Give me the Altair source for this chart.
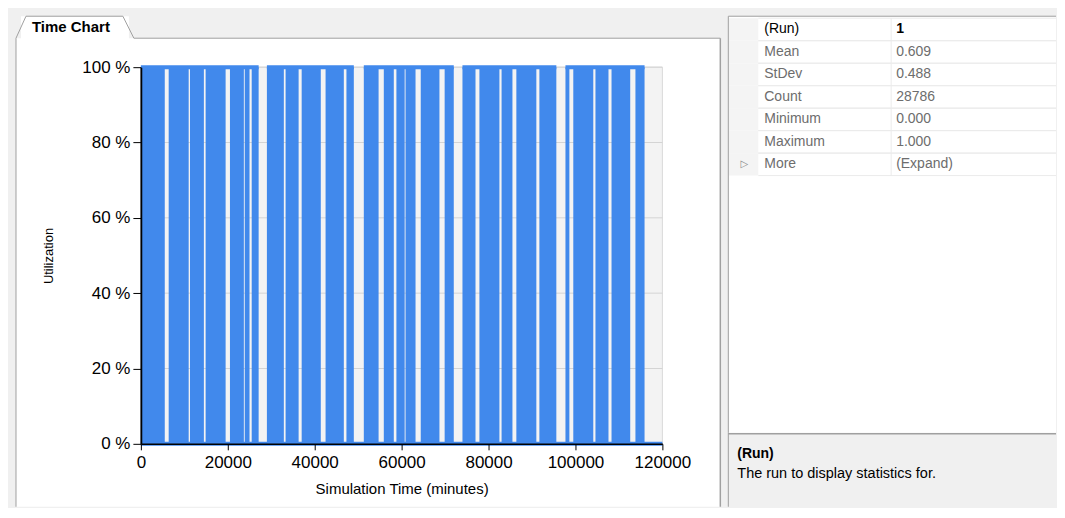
import altair as alt
import pandas as pd

# ---------------- data ----------------
x_ticks = [0, 20000, 40000, 60000, 80000, 100000, 120000]
y_ticks = [0.0, 0.2, 0.4, 0.6, 0.8, 1.0]

# spans where the utilization toggles so fast that the thick step line looks solid
busy_start = [0, 6400, 11300, 14900, 20500, 23900, 25500,
              29000, 33300, 37000, 42500, 47300,
              51300, 55900, 58800, 60900, 64400, 69900,
              74000, 77900, 83000, 86400, 91700,
              97700, 99500, 104600, 108300, 113800]
busy_end = [5500, 11000, 14500, 19500, 23700, 25000, 27100,
            32900, 36300, 41400, 46700, 49000,
            54700, 58200, 60700, 63200, 68700, 72000,
            77000, 82500, 85500, 91000, 95600,
            98600, 104100, 107600, 112600, 115900]
# spans where the line runs along 100 %
high_start = [0, 29000, 51300, 74000, 97700]
high_end = [27100, 49000, 72000, 95600, 115900]
# span where the line runs along 0 %
low_start = [0]
low_end = [120000]

prop_names = ["(Run)", "Mean", "StDev", "Count", "Minimum", "Maximum", "More"]
prop_values = ["1", "0.609", "0.488", "28786", "0.000", "1.000", "(Expand)"]
desc_lines = ["(Run)", "The run to display statistics for."]
tab_label = "Time Chart"
x_title = "Simulation Time (minutes)"
y_title = "Utilization"

# ---------------- styling ----------------
W, H = 522, 377
BLUE = "#4189ec"
FONT = "Liberation Sans"
BORDER = "#a0a0a0"
one = pd.DataFrame({"k": [0]})


def deco_rect(x, x2, y, y2, **kw):
    return alt.Chart(one).mark_rect(**kw).encode(
        x=alt.value(x), x2=alt.value(x2), y=alt.value(y), y2=alt.value(y2))


def deco_rule(x, x2, y, y2, **kw):
    return alt.Chart(one).mark_rule(**kw).encode(
        x=alt.value(x), x2=alt.value(x2), y=alt.value(y), y2=alt.value(y2))


xs = alt.Scale(domain=[0, 120000], nice=False, zero=False)
ys = alt.Scale(domain=[0, 1], nice=False)
xa = alt.Axis(values=x_ticks, format="d", title=x_title, grid=False,
              labelFlush=False, labelOverlap=False,
              labelFont=FONT, labelFontSize=17, labelColor="black", labelPadding=5,
              titleFont=FONT, titleFontSize=15, titleFontWeight="normal",
              titleColor="black", titlePadding=11,
              domainColor="black", domainWidth=1.5, tickColor="black",
              tickSize=6, tickWidth=1, zindex=1)
ya = alt.Axis(values=y_ticks, labelExpr="round(datum.value * 100) + ' %'",
              title=y_title, grid=False, labelOverlap=False,
              labelFont=FONT, labelFontSize=17, labelColor="black", labelPadding=3,
              titleFont=FONT, titleFontSize=13, titleFontWeight="normal",
              titleColor="black", titlePadding=26,
              domainColor="black", domainWidth=1.8, tickColor="black",
              tickSize=8, tickWidth=1, zindex=1)

# decorations: white panel with tab
panel = deco_rect(-125, 580, -29, 440, fill="white")
b_left = deco_rule(-125, -125, -29, 440, color=BORDER, strokeWidth=1)
b_top = deco_rule(-7, 580, -29, -29, color=BORDER, strokeWidth=1)
b_right = deco_rule(580, 580, -29, 440, color=BORDER, strokeWidth=1.5)
tab_fill = deco_rect(-120, -12, -51, -28, fill="white")
tab_l = deco_rule(-125, -115, -29, -51, color=BORDER, strokeWidth=1)
tab_t = deco_rule(-115, -18, -51, -51, color=BORDER, strokeWidth=1)
tab_r = deco_rule(-18, -7, -51, -29, color=BORDER, strokeWidth=1)
tab_text = alt.Chart(one).mark_text(
    text=tab_label, font=FONT, fontSize=15, fontWeight="bold", align="left",
    baseline="middle", color="black").encode(x=alt.value(-109), y=alt.value(-40))
plot_bg = deco_rect(0, W, 0, H, fill="#f3f3f3", stroke="#d9d9d9", strokeWidth=1)

grid = alt.Chart(pd.DataFrame({"v": y_ticks[1:]})).mark_rule(
    color="#d4d4d4", strokeWidth=1).encode(y=alt.Y("v:Q", scale=ys, axis=ya))

busy = alt.Chart(pd.DataFrame({"start": busy_start, "end": busy_end})).transform_calculate(
    lo="0", hi="1").mark_rect(color=BLUE).encode(
    x=alt.X("start:Q", scale=xs, axis=xa), x2="end:Q",
    y=alt.Y("lo:Q", scale=ys, axis=ya), y2="hi:Q")

top = alt.Chart(pd.DataFrame({"start": high_start, "end": high_end})).transform_calculate(
    level="1").mark_rule(color=BLUE, strokeWidth=4).encode(
    x=alt.X("start:Q", scale=xs, axis=xa), x2="end:Q",
    y=alt.Y("level:Q", scale=ys, axis=ya))

low = alt.Chart(pd.DataFrame({"start": low_start, "end": low_end})).transform_calculate(
    level="0").mark_rule(color=BLUE, strokeWidth=4).encode(
    x=alt.X("start:Q", scale=xs, axis=xa), x2="end:Q",
    y=alt.Y("level:Q", scale=ys, axis=ya))

left = alt.layer(panel, b_left, b_top, b_right, tab_fill, tab_l, tab_t, tab_r, tab_text,
                 plot_bg, grid, busy, top, low).properties(width=W, height=H)

# ---------------- property grid + description (one panel, aligned to window) ----------------
GW, RH = 328, 440           # view spans the plot's vertical extent
GTOP, GBOT = -51, 366       # grid panel edges relative to the view top
PFONT = "Liberation Sans"
GREY = "#6d6d6d"
props = pd.DataFrame({"row": list(range(len(prop_names))),
                      "name": prop_names, "value": prop_values})
rs = alt.Scale(domain=[-0.589, (GBOT - GTOP) / 22.5 - 0.589], range=[GTOP, GBOT],
               nice=False, zero=False)
pbase = alt.Chart(props).transform_calculate(lo="datum.row - 0.5", hi="datum.row + 0.5")

grid_bg = deco_rect(0, GW, GTOP, GBOT, fill="white")
gutter = pbase.mark_rect(color="#f4f4f4").encode(
    x=alt.value(0), x2=alt.value(30), y=alt.Y("lo:Q", scale=rs, axis=None), y2="hi:Q")
sep = pbase.mark_rule(color="#ebebeb", strokeWidth=1).encode(
    x=alt.value(30), x2=alt.value(GW), y=alt.Y("hi:Q", scale=rs, axis=None))
sep0 = pbase.mark_rule(color="#ebebeb", strokeWidth=1).encode(
    x=alt.value(30), x2=alt.value(GW), y=alt.Y("lo:Q", scale=rs, axis=None))
coldiv = pbase.mark_rule(color="#ebebeb", strokeWidth=1).encode(
    x=alt.value(163), y=alt.Y("lo:Q", scale=rs, axis=None), y2="hi:Q")
names = pbase.mark_text(align="left", baseline="middle", font=PFONT, fontSize=14).encode(
    x=alt.value(36), y=alt.Y("row:Q", scale=rs, axis=None), text="name:N",
    color=alt.condition("datum.row == 0", alt.value("black"), alt.value(GREY)))
vals = pbase.transform_filter("datum.row > 0").mark_text(
    align="left", baseline="middle", font=PFONT, fontSize=14, color=GREY).encode(
    x=alt.value(168), y=alt.Y("row:Q", scale=rs, axis=None), text="value:N")
val0 = pbase.transform_filter("datum.row == 0").mark_text(
    align="left", baseline="middle", font=PFONT, fontSize=14, fontWeight="bold",
    color="black").encode(
    x=alt.value(168), y=alt.Y("row:Q", scale=rs, axis=None), text="value:N")
arrow = pbase.transform_filter("datum.name == 'More'").mark_text(
    text="\u25b7", align="center", baseline="middle", font="DejaVu Sans", fontSize=10,
    color="#8a8a8a").encode(x=alt.value(16), y=alt.Y("row:Q", scale=rs, axis=None))
g_top = deco_rule(0, GW, GTOP, GTOP, color=BORDER, strokeWidth=1)
g_left = deco_rule(0, 0, GTOP, GBOT, color=BORDER, strokeWidth=1)

desc = pd.DataFrame({"line": list(range(len(desc_lines))), "text": desc_lines})
ds = alt.Scale(domain=[0, 1], range=[GBOT + 21, GBOT + 41], nice=False, zero=False)
d_title = alt.Chart(desc).transform_filter("datum.line == 0").mark_text(
    align="left", baseline="middle", font=PFONT, fontSize=14, fontWeight="bold",
    color="black").encode(x=alt.value(9), y=alt.Y("line:Q", scale=ds, axis=None), text="text:N")
d_body = alt.Chart(desc).transform_filter("datum.line > 0").mark_text(
    align="left", baseline="middle", font=PFONT, fontSize=14.5,
    color="black").encode(x=alt.value(9), y=alt.Y("line:Q", scale=ds, axis=None), text="text:N")
d_top = deco_rule(0, GW, GBOT + 1, GBOT + 1, color=BORDER, strokeWidth=1.5)
d_left = deco_rule(0, 0, GBOT, RH, color=BORDER, strokeWidth=1)

right = alt.layer(grid_bg, gutter, sep, sep0, coldiv, names, vals, val0, arrow, g_top, g_left,
                  d_title, d_body, d_top, d_left).resolve_scale(y="independent").properties(
    width=GW, height=RH)

chart = alt.hconcat(left, right, spacing=6).properties(
    background="#f0f0f0",
    padding={"left": 7, "top": 7, "right": 0, "bottom": 0},
).configure_view(strokeWidth=0)

chart.save("out.html", embed_options={"renderer": "svg", "actions": False})
